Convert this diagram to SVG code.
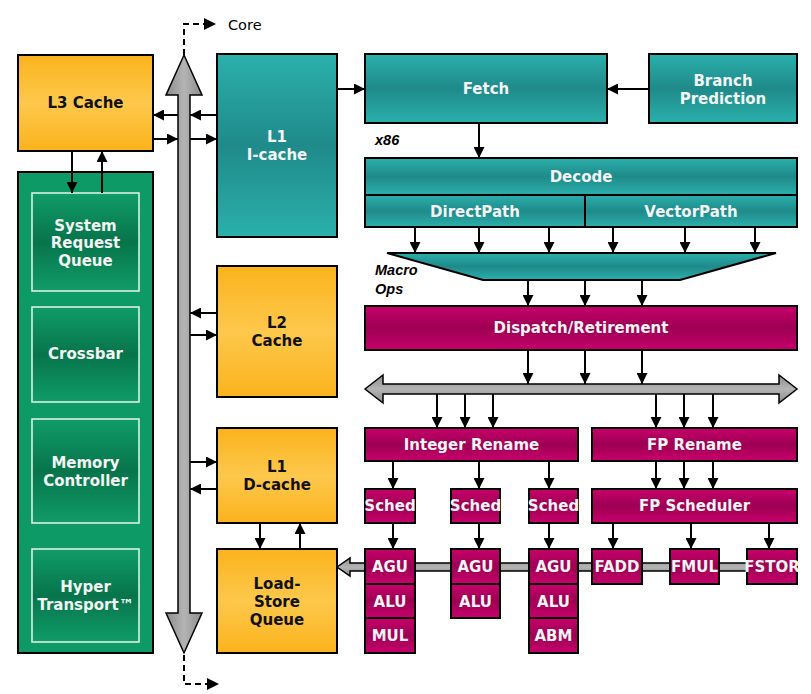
<svg xmlns="http://www.w3.org/2000/svg" width="811" height="694" viewBox="0 0 811 694">
<defs>
<linearGradient id="gTeal" x1="0" y1="0" x2="0" y2="1">
<stop offset="0" stop-color="#2bb0ac"/><stop offset="0.5" stop-color="#1f8a8a"/><stop offset="1" stop-color="#2bb0ac"/>
</linearGradient>
<linearGradient id="gMag" x1="0" y1="0" x2="0" y2="1">
<stop offset="0" stop-color="#c8006c"/><stop offset="0.5" stop-color="#9c0052"/><stop offset="1" stop-color="#c8006c"/>
</linearGradient>
<linearGradient id="gOr" x1="0" y1="0" x2="0" y2="1">
<stop offset="0" stop-color="#fbb31c"/><stop offset="0.5" stop-color="#fdc84c"/><stop offset="1" stop-color="#fbb31c"/>
</linearGradient>
<linearGradient id="gGr" x1="0" y1="0" x2="0" y2="1">
<stop offset="0" stop-color="#109c68"/><stop offset="0.5" stop-color="#07744b"/><stop offset="1" stop-color="#109c68"/>
</linearGradient>
<linearGradient id="gGray" x1="0" y1="0" x2="1" y2="0">
<stop offset="0" stop-color="#8c8c8c"/><stop offset="0.5" stop-color="#b4b4b4"/><stop offset="1" stop-color="#8c8c8c"/>
</linearGradient>
<linearGradient id="gGrayH" x1="0" y1="0" x2="0" y2="1">
<stop offset="0" stop-color="#8c8c8c"/><stop offset="0.5" stop-color="#b4b4b4"/><stop offset="1" stop-color="#8c8c8c"/>
</linearGradient>
<marker id="ah" viewBox="0 0 10 10" refX="10" refY="5" markerWidth="11" markerHeight="11" markerUnits="userSpaceOnUse" orient="auto">
<path d="M0,0 L10,5 L0,10 z" fill="#000"/>
</marker>
</defs>
<style>
.box{stroke:#000;stroke-width:2}
.teal{fill:url(#gTeal)}
.mag{fill:url(#gMag)}
.or{fill:url(#gOr)}
.inner{fill:url(#gGr);stroke:#e8f5ee;stroke-width:1.5}
.t{font-family:"DejaVu Sans","Verdana",sans-serif;font-weight:bold;font-size:15px;text-anchor:middle;fill:#f4f4f4}
.td{font-family:"DejaVu Sans","Verdana",sans-serif;font-weight:bold;font-size:15px;text-anchor:middle;fill:#111}
.it{font-family:"Liberation Sans",Arial,sans-serif;font-weight:bold;font-style:italic;font-size:14.5px;fill:#000}
.arr{stroke:#000;stroke-width:2;fill:none;marker-end:url(#ah)}
.dash{stroke:#000;stroke-width:2;fill:none;stroke-dasharray:6,4}
.bus{stroke:#000;stroke-width:1.5}
</style>
<rect width="811" height="694" fill="#fff"/>

<g id="buses">
<path class="bus" fill="url(#gGray)" d="M184,55 L202,95 L190,95 L190,613 L202,613 L184,653 L166,613 L178,613 L178,95 L166,95 Z"/>
<path class="dash" d="M184,655 L184,684 L207,684"/>
<path d="M207,678 L219,684 L207,690 Z" fill="#000"/>
<path class="dash" d="M184,55 L184,24 L204,24"/>
<path d="M204,18 L216,24 L204,30 Z" fill="#000"/>
<path class="bus" fill="url(#gGrayH)" d="M365,389 L383,375 L383,384 L779,384 L779,375 L797,389 L779,403 L779,394 L383,394 L383,403 Z"/>
<path class="bus" fill="url(#gGrayH)" d="M337,567 L350,558 L350,563 L797,563 L797,571 L350,571 L350,576 Z"/>
</g>

<text x="228" y="30" font-family="DejaVu Sans, Verdana, sans-serif" font-size="14.5" fill="#000">Core</text>

<g id="l3cache"><rect class="box or" x="18" y="55" width="135" height="96"/><text class="td" x="85.5" y="108">L3 Cache</text></g>
<g id="northbridge"><rect class="box" fill="#0e9a66" x="18" y="172" width="135" height="481"/></g>
<g id="srq"><rect class="inner" x="32" y="193" width="107" height="98"/><text class="t" x="85.5" y="231">System</text><text class="t" x="85.5" y="248">Request</text><text class="t" x="85.5" y="266">Queue</text></g>
<g id="crossbar"><rect class="inner" x="32" y="307" width="107" height="95"/><text class="t" x="85.5" y="359">Crossbar</text></g>
<g id="memctrl"><rect class="inner" x="32" y="419" width="107" height="104"/><text class="t" x="85.5" y="468">Memory</text><text class="t" x="85.5" y="486">Controller</text></g>
<g id="ht"><rect class="inner" x="32" y="549" width="107" height="93"/><text class="t" x="85.5" y="592">Hyper</text><text class="t" x="85.5" y="610">Transport™</text></g>

<g id="l1icache"><rect class="box teal" x="217" y="54" width="120" height="183"/><text class="t" x="277" y="142">L1</text><text class="t" x="277" y="160">I-cache</text></g>
<g id="l2cache"><rect class="box or" x="217" y="266" width="120" height="131"/><text class="td" x="277" y="328">L2</text><text class="td" x="277" y="346">Cache</text></g>
<g id="l1dcache"><rect class="box or" x="217" y="428" width="120" height="95"/><text class="td" x="277" y="472">L1</text><text class="td" x="277" y="490">D-cache</text></g>
<g id="lsq"><rect class="box or" x="217" y="549" width="120" height="104"/><text class="td" x="277" y="589">Load-</text><text class="td" x="277" y="607">Store</text><text class="td" x="277" y="625">Queue</text></g>

<g id="fetch"><rect class="box teal" x="365" y="54" width="242" height="69"/><text class="t" x="486" y="94">Fetch</text></g>
<g id="bp"><rect class="box teal" x="649" y="54" width="148" height="69"/><text class="t" x="723" y="86">Branch</text><text class="t" x="723" y="104">Prediction</text></g>
<text class="it" x="375" y="145">x86</text>
<g id="decode"><rect class="box teal" x="365" y="158" width="432" height="37"/><text class="t" x="581" y="182">Decode</text></g>
<g id="directpath"><rect class="box teal" x="365" y="195" width="220" height="32"/><text class="t" x="475" y="217">DirectPath</text></g>
<g id="vectorpath"><rect class="box teal" x="585" y="195" width="212" height="32"/><text class="t" x="691" y="217">VectorPath</text></g>
<g id="macroops"><polygon class="box teal" points="387,253 776,253 680,280 483,280"/><text class="it" x="375" y="275">Macro</text><text class="it" x="375" y="294">Ops</text></g>

<g id="dispatch"><rect class="box mag" x="365" y="306" width="432" height="44"/><text class="t" x="581" y="333">Dispatch/Retirement</text></g>
<g id="intrename"><rect class="box mag" x="365" y="428" width="213" height="33"/><text class="t" x="471.5" y="450">Integer Rename</text></g>
<g id="fprename"><rect class="box mag" x="592" y="428" width="205" height="33"/><text class="t" x="694.5" y="450">FP Rename</text></g>
<g id="sched1"><rect class="box mag" x="365" y="489" width="50" height="34"/><text class="t" x="390" y="511">Sched</text></g>
<g id="sched2"><rect class="box mag" x="451" y="489" width="49" height="34"/><text class="t" x="475.5" y="511">Sched</text></g>
<g id="sched3"><rect class="box mag" x="529" y="489" width="49" height="34"/><text class="t" x="553.5" y="511">Sched</text></g>
<g id="fpsched"><rect class="box mag" x="592" y="489" width="205" height="34"/><text class="t" x="694.5" y="511">FP Scheduler</text></g>

<g id="agu1"><rect class="box mag" x="365" y="549" width="50" height="35"/><text class="t" x="390" y="572">AGU</text></g>
<g id="alu1"><rect class="box mag" x="365" y="584" width="50" height="34"/><text class="t" x="390" y="607">ALU</text></g>
<g id="mul"><rect class="box mag" x="365" y="618" width="50" height="35"/><text class="t" x="390" y="641">MUL</text></g>
<g id="agu2"><rect class="box mag" x="451" y="549" width="49" height="35"/><text class="t" x="475.5" y="572">AGU</text></g>
<g id="alu2"><rect class="box mag" x="451" y="584" width="49" height="34"/><text class="t" x="475.5" y="607">ALU</text></g>
<g id="agu3"><rect class="box mag" x="529" y="549" width="49" height="35"/><text class="t" x="553.5" y="572">AGU</text></g>
<g id="alu3"><rect class="box mag" x="529" y="584" width="49" height="34"/><text class="t" x="553.5" y="607">ALU</text></g>
<g id="abm"><rect class="box mag" x="529" y="618" width="49" height="35"/><text class="t" x="553.5" y="641">ABM</text></g>
<g id="fadd"><rect class="box mag" x="592" y="549" width="50" height="35"/><text class="t" x="617" y="572">FADD</text></g>
<g id="fmul"><rect class="box mag" x="670" y="549" width="49" height="35"/><text class="t" x="694.5" y="572">FMUL</text></g>
<g id="fstor"><rect class="box mag" x="747" y="549" width="50" height="35"/><text class="t" x="772" y="572">FSTOR</text></g>

<g id="connectors">
<line class="arr" x1="178" y1="115" x2="153" y2="115"/>
<line class="arr" x1="217" y1="115" x2="190" y2="115"/>
<line class="arr" x1="153" y1="139" x2="178" y2="139"/>
<line class="arr" x1="190" y1="139" x2="217" y2="139"/>
<line class="arr" x1="72" y1="151" x2="72" y2="193"/>
<line class="arr" x1="102" y1="193" x2="102" y2="151"/>
<line class="arr" x1="217" y1="313" x2="190" y2="313"/>
<line class="arr" x1="190" y1="335" x2="217" y2="335"/>
<line class="arr" x1="190" y1="462" x2="217" y2="462"/>
<line class="arr" x1="217" y1="489" x2="190" y2="489"/>
<line class="arr" x1="260" y1="523" x2="260" y2="549"/>
<line class="arr" x1="300" y1="549" x2="300" y2="523"/>
<line class="arr" x1="337" y1="89" x2="365" y2="89"/>
<line class="arr" x1="649" y1="89" x2="607" y2="89"/>
<line class="arr" x1="479" y1="123" x2="479" y2="158"/>
<line class="arr" x1="415" y1="227" x2="415" y2="253"/>
<line class="arr" x1="479" y1="227" x2="479" y2="253"/>
<line class="arr" x1="549" y1="227" x2="549" y2="253"/>
<line class="arr" x1="613" y1="227" x2="613" y2="253"/>
<line class="arr" x1="685" y1="227" x2="685" y2="253"/>
<line class="arr" x1="755" y1="227" x2="755" y2="253"/>
<line class="arr" x1="528" y1="280" x2="528" y2="306"/>
<line class="arr" x1="585" y1="280" x2="585" y2="306"/>
<line class="arr" x1="642" y1="280" x2="642" y2="306"/>
<line class="arr" x1="528" y1="350" x2="528" y2="384"/>
<line class="arr" x1="585" y1="350" x2="585" y2="384"/>
<line class="arr" x1="642" y1="350" x2="642" y2="384"/>
<line class="arr" x1="437" y1="394" x2="437" y2="428"/>
<line class="arr" x1="465" y1="394" x2="465" y2="428"/>
<line class="arr" x1="493" y1="394" x2="493" y2="428"/>
<line class="arr" x1="656" y1="394" x2="656" y2="428"/>
<line class="arr" x1="684" y1="394" x2="684" y2="428"/>
<line class="arr" x1="713" y1="394" x2="713" y2="428"/>
<line class="arr" x1="393" y1="461" x2="393" y2="489"/>
<line class="arr" x1="479" y1="461" x2="479" y2="489"/>
<line class="arr" x1="549" y1="461" x2="549" y2="489"/>
<line class="arr" x1="656" y1="461" x2="656" y2="489"/>
<line class="arr" x1="684" y1="461" x2="684" y2="489"/>
<line class="arr" x1="713" y1="461" x2="713" y2="489"/>
<line class="arr" x1="393" y1="523" x2="393" y2="549"/>
<line class="arr" x1="479" y1="523" x2="479" y2="549"/>
<line class="arr" x1="549" y1="523" x2="549" y2="549"/>
<line class="arr" x1="613" y1="523" x2="613" y2="549"/>
<line class="arr" x1="691" y1="523" x2="691" y2="549"/>
<line class="arr" x1="769" y1="523" x2="769" y2="549"/>
</g>
</svg>
